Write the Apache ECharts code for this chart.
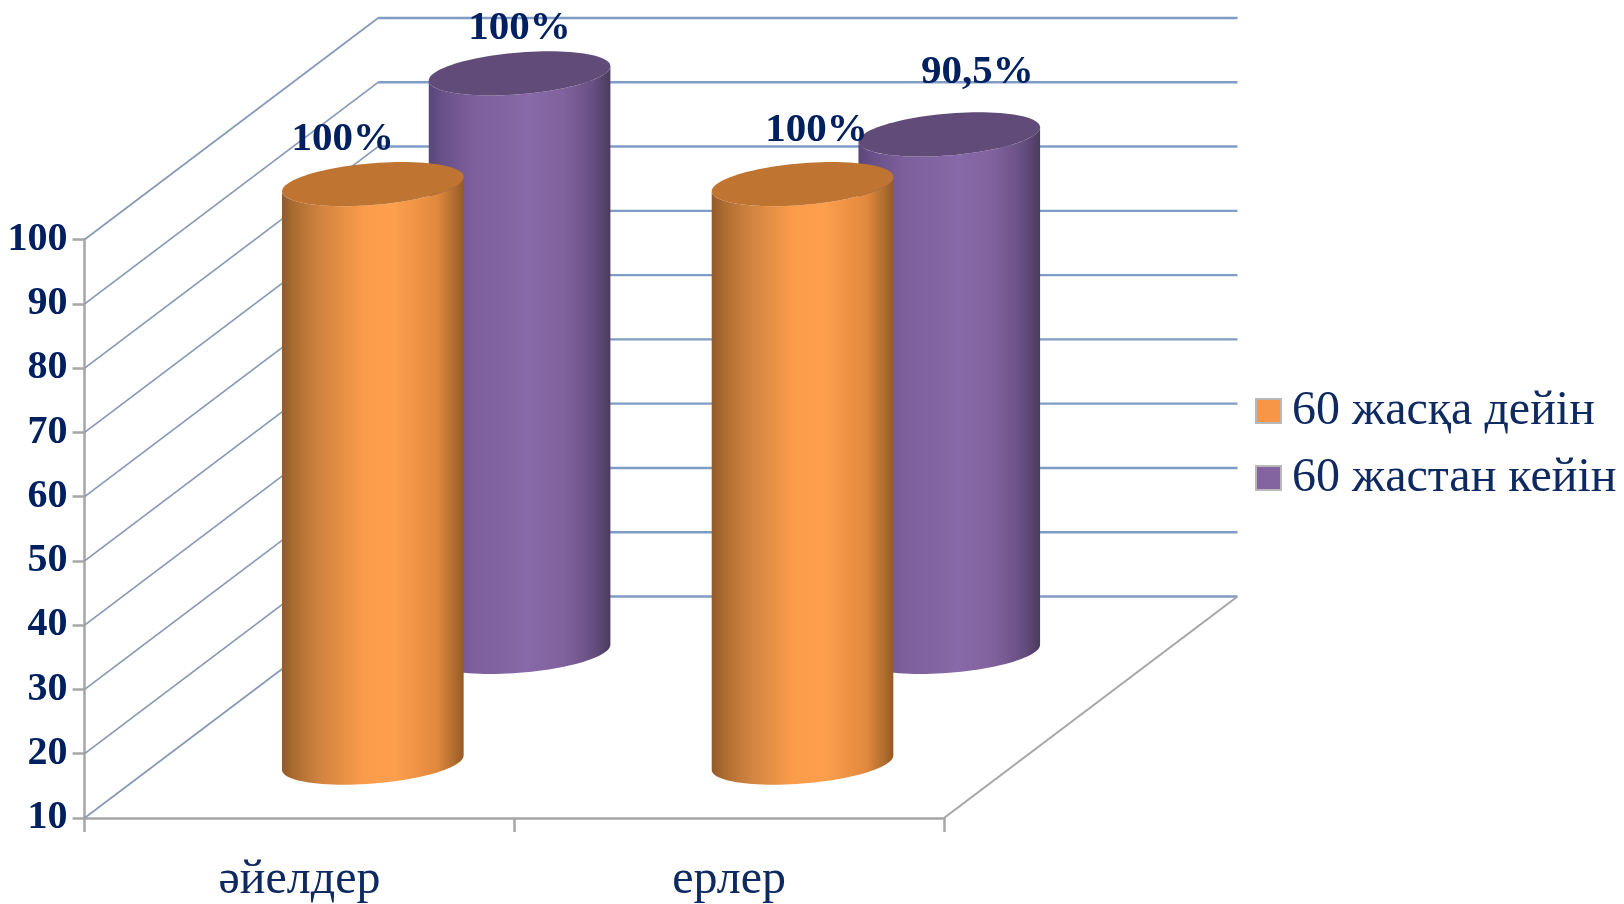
<!DOCTYPE html>
<html>
<head>
<meta charset="utf-8">
<style>html,body{margin:0;padding:0;background:#fff}#c{width:1624px;height:904px}</style>
<script src="https://cdn.jsdelivr.net/npm/echarts@6/dist/echarts.min.js"></script>
</head>
<body>
<div id="c"></div>
<script>
const categories = ['әйелдер', 'ерлер'];
const seriesNames = ['60 жасқа дейін', '60 жастан кейін'];
const before60 = [100, 100];
const after60 = [100, 90.5];
const before60Labels = ['100%', '100%'];
const after60Labels = ['100%', '90,5%'];
const yTicks = [10, 20, 30, 40, 50, 60, 70, 80, 90, 100];

// Layout of the fake 3D box
const DEPTH = [293.5, -221.5];      // front plane -> back wall, in pixels
const FONT = '"Liberation Serif","Times New Roman",serif';
const NAVY = '#002060';
const GRID_BLUE = '#7f9cc4';
const AXIS_GREY = '#a6a6a6';

const ORANGE_BODY = [[0,'#93592a'],[0.07,'#ad6c30'],[0.2,'#cf8240'],[0.45,'#fb9c4a'],[0.62,'#fd9f4c'],[0.85,'#e2893e'],[0.95,'#b06d2e'],[1,'#945a26']];
const PURPLE_BODY = [[0,'#59467a'],[0.08,'#695188'],[0.25,'#7d5f9c'],[0.55,'#8869a9'],[0.75,'#7f619b'],[0.9,'#685083'],[1,'#4b3a5f']];

const grad = stops => ({type:'linear',x:0,y:0,x2:1,y2:0,colorStops:stops.map(s=>({offset:s[0],color:s[1]}))});

function cylinderSeries(name, values, labels, depthFrac, bodyStops, topColor, swatch, labelOffsets) {
  return {
    name, type:'custom', coordinateSystem:'cartesian2d', silent:true,
    itemStyle:{color:swatch, borderColor:'#b8b8b8', borderWidth:0.5},
    data: values.map((v,i)=>[i,v]),
    encode:{x:0,y:1},
    renderItem(params, api) {
      const cat = api.value(0), val = api.value(1);
      const base = api.coord([cat, 10]);
      const top = api.coord([cat, val]);
      const catW = api.size([1,0])[0];
      const ox = DEPTH[0]*depthFrac, oy = DEPTH[1]*depthFrac;
      const ux = catW*0.2, vx = DEPTH[0]*0.1, vy = DEPTH[1]*0.1;
      const th0 = Math.atan2(vx, ux);
      const pt = (c,t) => [c[0]+ox+Math.cos(t)*ux+Math.sin(t)*vx, c[1]+oy+Math.sin(t)*vy];
      const N = 48, body = [], lid = [];
      for (let k=0;k<=N;k++) body.push(pt(base, th0 - Math.PI*k/N));
      for (let k=0;k<=N;k++) body.push(pt(top, th0 - Math.PI + Math.PI*k/N));
      for (let k=0;k<N*2;k++) lid.push(pt(top, Math.PI*k/N));
      const off = labelOffsets[params.dataIndex];
      return {type:'group', silent:true, children:[
        {type:'polygon', shape:{points:body}, style:{fill:grad(bodyStops)}},
        {type:'polygon', shape:{points:lid}, style:{fill:topColor}},
        {type:'text', z2:50, style:{
          x: top[0]+ox+off[0], y: top[1]+oy+off[1],
          text: labels[params.dataIndex], fill:NAVY, align:'center', verticalAlign:'middle',
          font:'bold 41px '+FONT}}
      ]};
    }
  };
}

const option = {
  animation:false,
  backgroundColor:'#ffffff',
  grid:{left:84.6, top:239.5, right:1624-944, bottom:904-818},
  xAxis:{
    type:'category', data:categories, boundaryGap:true,
    axisLine:{show:true,lineStyle:{color:AXIS_GREY,width:2.5}},
    axisTick:{show:true,alignWithLabel:false,length:14,lineStyle:{color:AXIS_GREY,width:2.5}},
    axisLabel:{color:'#0f2a60',fontFamily:FONT,fontSize:48,margin:38}
  },
  yAxis:{
    type:'value', min:10, max:100, interval:10,
    axisLine:{show:true,lineStyle:{color:AXIS_GREY,width:2.5}},
    axisTick:{show:true,length:12,lineStyle:{color:AXIS_GREY,width:2.5}},
    splitLine:{show:false},
    axisLabel:{color:NAVY,fontFamily:FONT,fontWeight:'bold',fontSize:40,margin:17,padding:[2,0,0,0]}
  },
  legend:{
    left:1250, top:382, orient:'vertical', itemWidth:25, itemHeight:24, itemGap:19,
    selectedMode:false, icon:'rect',
    data:seriesNames,
    textStyle:{color:'#0f2a60',fontFamily:FONT,fontSize:48,padding:[0,0,0,6]}
  },
  series:[
    { name:'walls', type:'custom', coordinateSystem:'cartesian2d', silent:true,
      data: yTicks.map(v=>[0,v]), encode:{x:0,y:1},
      renderItem(params, api) {
        const cs = params.coordSys, y = api.coord([0, api.value(1)])[1];
        const bx = cs.x + DEPTH[0], by = y + DEPTH[1], rx = cs.x + cs.width + DEPTH[0];
        return {type:'group', silent:true, children:[
          {type:'line', shape:{x1:cs.x,y1:y,x2:bx,y2:by}, style:{stroke:'#8598b5',lineWidth:1.6}},
          {type:'line', shape:{x1:bx,y1:by,x2:rx,y2:by}, style:{stroke:GRID_BLUE,lineWidth:2.4}}
        ]};
      }
    },
    { name:'floor', type:'custom', coordinateSystem:'cartesian2d', silent:true,
      data:[[0,yTicks[0]]], encode:{x:0,y:1},
      renderItem(params, api) {
        const cs = params.coordSys, y = api.coord([0, api.value(1)])[1], x = cs.x + cs.width;
        return {type:'line', silent:true, shape:{x1:x,y1:y,x2:x+DEPTH[0],y2:y+DEPTH[1]}, style:{stroke:AXIS_GREY,lineWidth:2}};
      }
    },
    cylinderSeries(seriesNames[1], after60, after60Labels, 0.75, PURPLE_BODY, '#614b78', '#8464a0', [[0,-45],[28,-62.5]]),
    cylinderSeries(seriesNames[0], before60, before60Labels, 0.25, ORANGE_BODY, '#bf7531', '#f79646', [[-30,-45],[14,-54]])
  ]
};
const chart = echarts.init(document.getElementById('c'), null, {renderer:'canvas', width:1624, height:904});
chart.setOption(option);
</script>
</body>
</html>
